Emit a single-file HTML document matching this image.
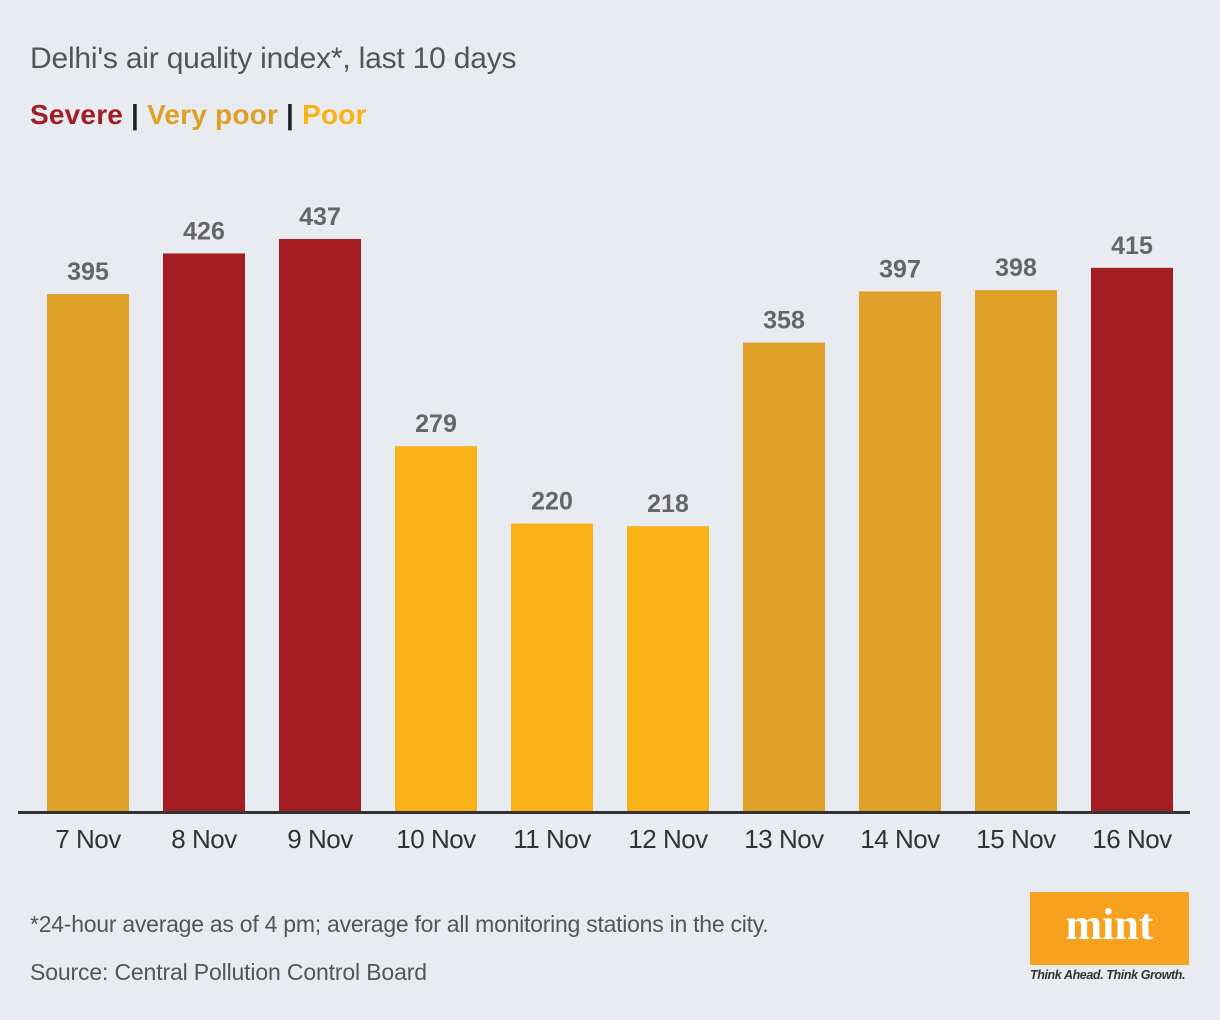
<!DOCTYPE html>
<html><head><meta charset="utf-8"><style>
body{margin:0;width:1220px;height:1020px;background:#e8ebef;font-family:"Liberation Sans",sans-serif;overflow:hidden;position:relative}
.t{position:absolute;white-space:nowrap}
</style></head><body>
<div class="t" style="left:30px;top:42px;font-size:30px;color:#555;letter-spacing:-0.2px">Delhi's air quality index*, last 10 days</div>
<div class="t" style="left:30px;top:99px;font-size:28px;font-weight:bold;letter-spacing:0.2px">
<span style="color:#a31d22">Severe</span> <span style="color:#222">|</span> <span style="color:#dea026">Very poor</span> <span style="color:#222">|</span> <span style="color:#fbb216">Poor</span></div>
<svg id="chart" width="1220" height="880" style="position:absolute;left:0;top:0"></svg>
<div class="t" style="left:30px;top:911px;font-size:23px;color:#555;letter-spacing:-0.25px">*24-hour average as of 4 pm; average for all monitoring stations in the city.</div>
<div class="t" style="left:30px;top:959px;font-size:23px;color:#555;letter-spacing:-0.15px">Source: Central Pollution Control Board</div>
<div style="position:absolute;left:1030px;top:892px;width:159px;height:73px;background:#f7a11e;color:#fff;font-family:'Liberation Serif',serif;font-weight:bold;font-size:44px;text-align:center;line-height:66px">mint</div>
<div class="t" style="left:1030px;top:968px;font-size:12.5px;font-style:italic;font-weight:bold;color:#333;letter-spacing:-0.4px">Think Ahead. Think Growth.</div>
<script>
const categories=["7 Nov","8 Nov","9 Nov","10 Nov","11 Nov","12 Nov","13 Nov","14 Nov","15 Nov","16 Nov"];
const values=[395,426,437,279,220,218,358,397,398,415];
const levels=["very-poor","severe","severe","poor","poor","poor","very-poor","very-poor","very-poor","severe"];
const colorMap={"severe":"#a31d22","very-poor":"#dea026","poor":"#fbb216"};
const svg=document.getElementById('chart');
const NS="http://www.w3.org/2000/svg";
const base=812, scale=573/437;
const y=v=>base-v*scale;
const x=i=>88+i*116;
const bw=82;
values.forEach((v,i)=>{
  const r=document.createElementNS(NS,'rect');
  r.setAttribute('x',x(i)-bw/2);r.setAttribute('y',y(v));r.setAttribute('width',bw);r.setAttribute('height',base-y(v));
  r.setAttribute('fill',colorMap[levels[i]]);
  
  
  svg.appendChild(r);
  const t=document.createElementNS(NS,'text');
  t.setAttribute('x',x(i));t.setAttribute('y',y(v)-14);t.setAttribute('text-anchor','middle');
  t.setAttribute('font-size','25');t.setAttribute('font-weight','bold');t.setAttribute('fill','#666');
  t.textContent=v;
  
  
  svg.appendChild(t);
  const c=document.createElementNS(NS,'text');
  c.setAttribute('x',x(i));c.setAttribute('y',848);c.setAttribute('text-anchor','middle');
  c.setAttribute('font-size','26');c.setAttribute('fill','#333');c.setAttribute('letter-spacing','-0.5');
  c.textContent=categories[i];
  
  
  svg.appendChild(c);
});
const ax=document.createElementNS(NS,'rect');
ax.setAttribute('x',18);ax.setAttribute('y',base-1);ax.setAttribute('width',1172);ax.setAttribute('height',3);ax.setAttribute('fill','#333');


svg.appendChild(ax);
</script>
</body></html>
